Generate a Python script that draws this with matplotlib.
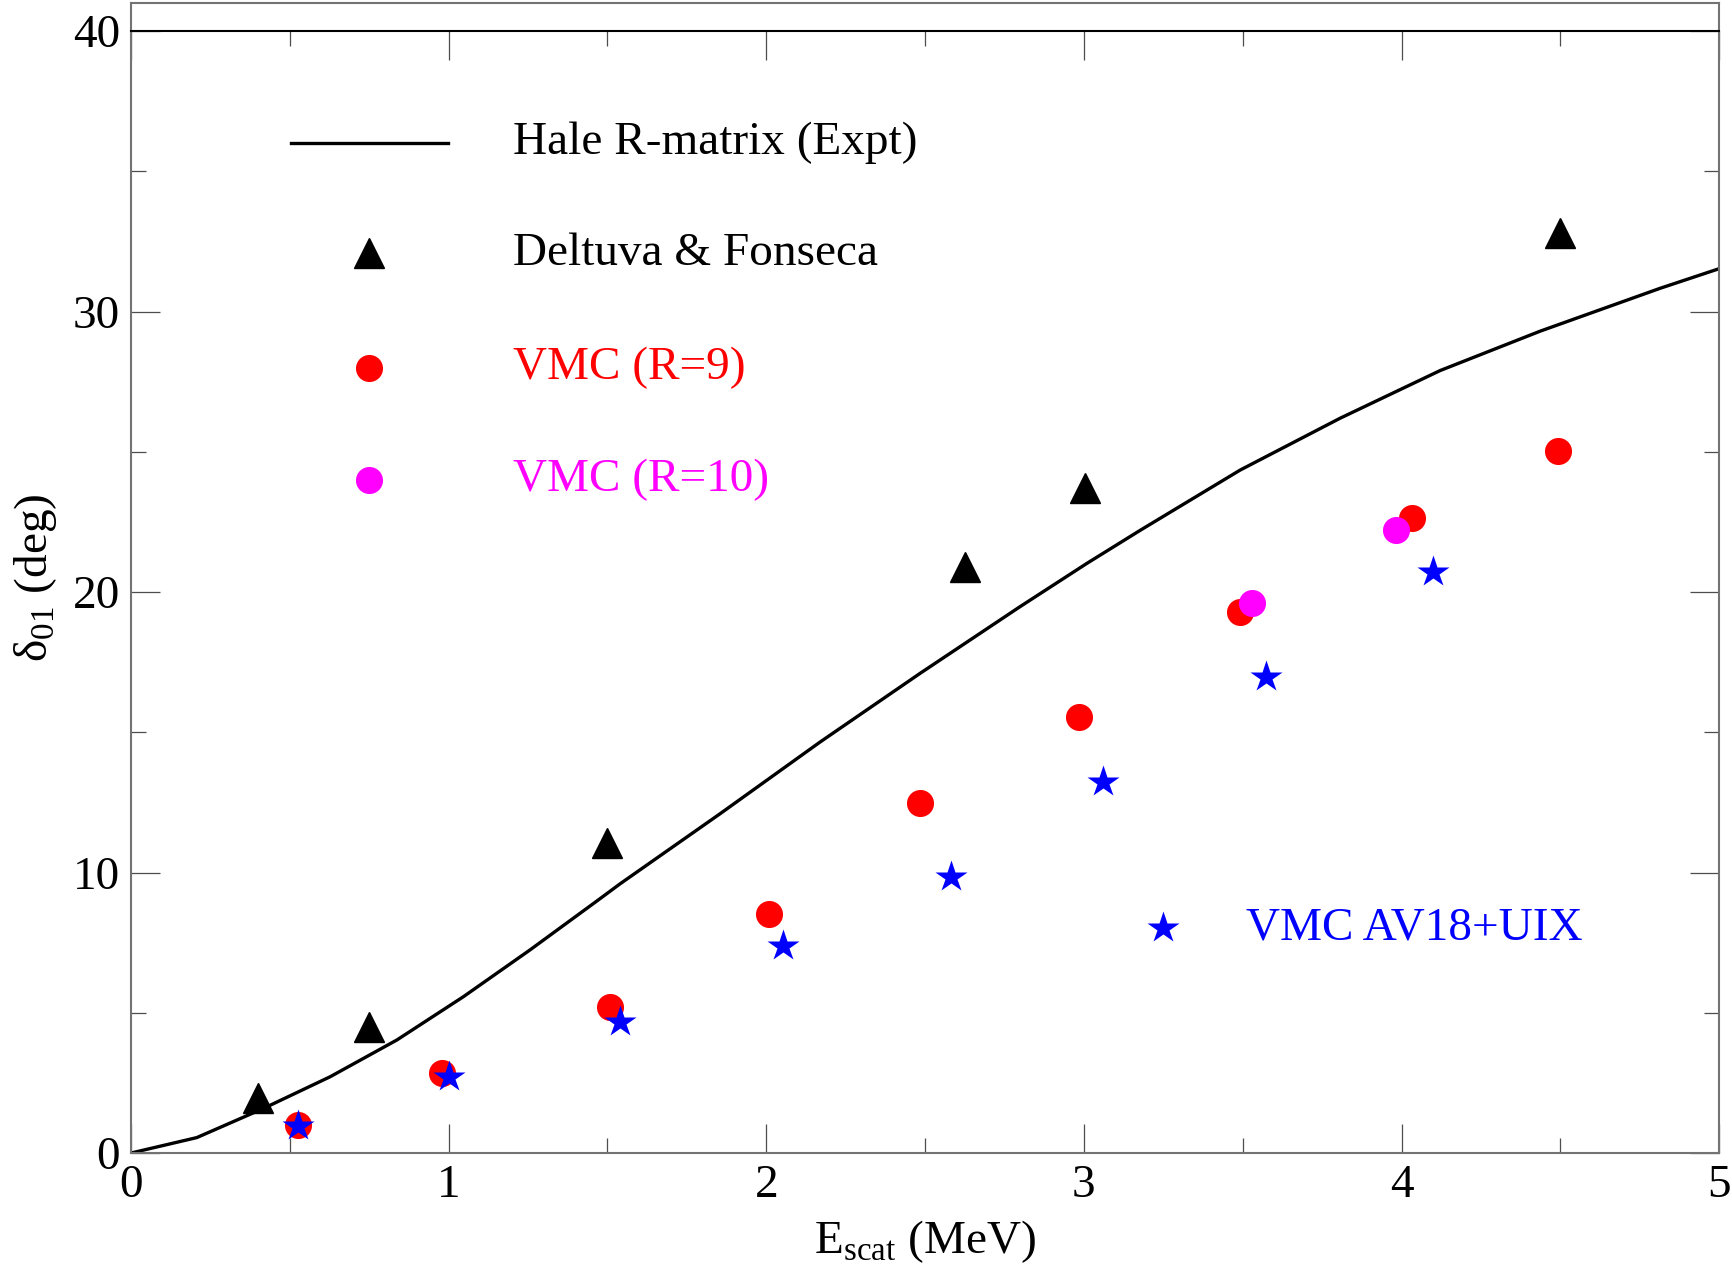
import matplotlib

matplotlib.use('Agg')

import matplotlib.pyplot as plt

plt.rcParams['font.family'] = ['Liberation Serif', 'DejaVu Serif']
plt.rcParams['mathtext.fontset'] = 'custom'
plt.rcParams['mathtext.rm'] = 'Liberation Serif'

# Hale R-matrix curve
hale_e = [0, 0.207, 0.417, 0.627, 0.837, 1.046, 1.256, 1.466, 1.54, 1.855,
          2.169, 2.484, 2.799, 3.009, 3.177, 3.492, 3.807, 4.122, 4.436,
          4.814, 5.0]
hale_d = [0, 0.55, 1.59, 2.72, 4.03, 5.57, 7.24, 8.98, 9.6, 12.1,
          14.65, 17.1, 19.48, 21.02, 22.2, 24.35, 26.2, 27.9, 29.3,
          30.83, 31.53]

# Deltuva & Fonseca
df_e = [0.40, 0.75, 1.50, 2.626, 3.003, 4.50]
df_d = [1.95, 4.50, 11.05, 20.9, 23.7, 32.8]

# VMC (R=9)
r9_e = [0.525, 0.98, 1.508, 2.008, 2.484, 2.984, 3.49, 4.032, 4.494]
r9_d = [1.0, 2.86, 5.19, 8.52, 12.49, 15.55, 19.29, 22.63, 25.03]

# VMC (R=10)
r10_e = [3.528, 3.983]
r10_d = [19.6, 22.21]

# VMC AV18+UIX
av_e = [0.525, 1.001, 1.54, 2.053, 2.582, 3.061, 3.573, 4.10]
av_d = [0.95, 2.72, 4.68, 7.38, 9.85, 13.24, 16.96, 20.72]

MAGENTA = '#ff00ff'
BLUE = '#0000ff'
FS = 34


def draw_frame(ax):
    ax.set_xlim(0, 5)
    ax.set_ylim(0, 41)
    ax.set_xticks([0, 1, 2, 3, 4, 5])
    ax.set_xticks([0.5, 1.5, 2.5, 3.5, 4.5], minor=True)
    ax.set_yticks([0, 10, 20, 30, 40])
    ax.set_yticks([5, 15, 25, 35], minor=True)
    ax.tick_params(which='both', direction='in', top=True, right=True,
                   labelsize=FS, width=0.9, color='0.3')
    ax.tick_params(which='major', length=21, pad=8)
    ax.tick_params(which='minor', length=11)
    for s in ax.spines.values():
        s.set_color('0.45')
        s.set_linewidth(1.5)
    # top ticks hang from the 40 line, as in the original
    ax.spines['top'].set_position(('data', 40))
    ax.spines['top'].set_color('black')
    ax.axhline(41, color='0.45', lw=1.5, clip_on=False)


fig = plt.figure(figsize=(17.33, 12.82), dpi=100)
ax = fig.add_axes([0.0756, 0.1006, 0.9164, 0.897])
draw_frame(ax)

ax.plot(hale_e, hale_d, color='black', lw=2.4, zorder=2)
ax.plot(df_e, df_d, ls='none', marker='^', ms=22, color='black', zorder=3)
ax.plot(r9_e, r9_d, ls='none', marker='o', ms=19.5, color='red',
        mec='none', zorder=3)
ax.plot(r10_e, r10_d, ls='none', marker='o', ms=19.5, color=MAGENTA,
        mec='none', zorder=4)
ax.plot(av_e, av_d, ls='none', marker='*', ms=24, color=BLUE,
        mec='none', zorder=5)

# hand placed legend
ax.plot([0.503, 0.997], [36.02, 36.02], color='black', lw=2.4)
ax.plot([0.75], [32.08], marker='^', ms=22, color='black')
ax.plot([0.75], [27.99], marker='o', ms=19.5, color='red', mec='none')
ax.plot([0.75], [24.0], marker='o', ms=19.5, color=MAGENTA, mec='none')
ax.plot([3.248], [8.02], marker='*', ms=24, color=BLUE, mec='none')

LFS = 34
ax.text(1.202, 36.02, 'Hale R-matrix (Expt)', fontsize=LFS, va='center')
ax.text(1.202, 32.08, 'Deltuva & Fonseca', fontsize=LFS, va='center')
ax.text(1.202, 27.99, 'VMC (R=9)', fontsize=LFS, va='center', color='red')
ax.text(1.202, 24.0, 'VMC (R=10)', fontsize=LFS, va='center', color=MAGENTA)
ax.text(3.509, 8.02, 'VMC AV18+UIX', fontsize=LFS, va='center', color=BLUE)

ax.set_xlabel(r'E$_{\rm scat}$ (MeV)', fontsize=FS, labelpad=8)
ax.set_ylabel(r'δ$_{\rm 01}$ (deg)', fontsize=FS, labelpad=10)

fig.savefig('out.png', dpi=100)
